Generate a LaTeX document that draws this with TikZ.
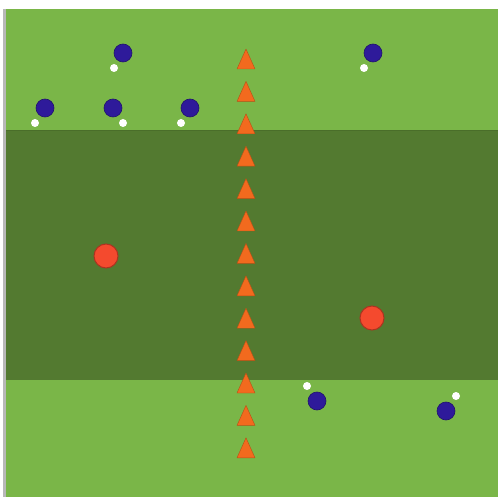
\documentclass[tikz,border=0pt]{standalone}
\definecolor{field}{HTML}{7AB648}
\definecolor{darkfield}{HTML}{537A30}
\definecolor{edgeline}{HTML}{4A6E2A}
\definecolor{player}{HTML}{2E1A9A}
\definecolor{cone}{HTML}{F26A1E}
\definecolor{reddot}{HTML}{F44A2E}
\definecolor{leftedge}{HTML}{B8B8B8}
\tikzset{
  playerdot/.style={circle,fill=player,draw=player!70!black,line width=0.6pt,minimum size=18pt,inner sep=0pt},
  balldot/.style={circle,fill=white,minimum size=8pt,inner sep=0pt},
  targetdot/.style={circle,fill=reddot,draw=reddot!70!black,line width=1pt,minimum size=24pt,inner sep=0pt},
  conestyle/.style={fill=cone,draw=cone!75!black,line width=0.4pt,line join=round}
}
\begin{document}
\begin{tikzpicture}[x=1pt,y=-1pt]
\useasboundingbox (0,0) rectangle (498,497);
\fill[white] (0,0) rectangle (498,497);
\fill[leftedge] (3,9) rectangle (7,497);
\fill[field] (6,9) rectangle (498,497);
\fill[darkfield] (6,130) rectangle (498,380);
\draw[edgeline,line width=1pt] (6,130.5) -- (498,130.5);
% cones
\foreach \i in {0,...,12}{
  \pgfmathsetmacro{\cy}{59+32.4*\i}
  \path[conestyle] (246,\cy-10) -- (255,\cy+10) -- (237,\cy+10) -- cycle;
}
% red targets
\node[targetdot] (r1) at (106,256) {};
\node[targetdot] (r2) at (372,318) {};
% players and balls
\node[playerdot] (p1) at (123,53) {};
\node[balldot] (b1) at (114,68) {};
\node[playerdot] (p2) at (373,53) {};
\node[balldot] (b2) at (364,68) {};
\node[playerdot] (p3) at (45,108) {};
\node[balldot] (b3) at (35,123) {};
\node[playerdot] (p4) at (113,108) {};
\node[balldot] (b4) at (123,123) {};
\node[playerdot] (p5) at (190,108) {};
\node[balldot] (b5) at (181,123) {};
\node[playerdot] (p6) at (317,401) {};
\node[balldot] (b6) at (307,386) {};
\node[playerdot] (p7) at (446,411) {};
\node[balldot] (b7) at (456,396) {};
\end{tikzpicture}
\end{document}
